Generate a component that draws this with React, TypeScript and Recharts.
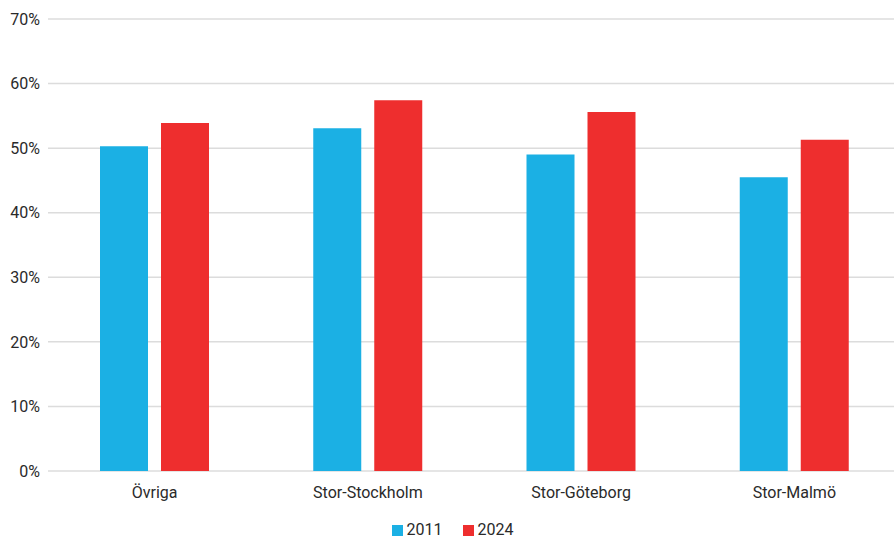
import { BarChart, Bar, XAxis, YAxis, CartesianGrid, Legend } from "recharts"

const regions = ["Övriga", "Stor-Stockholm", "Stor-Göteborg", "Stor-Malmö"]
const share2011 = [50.3, 53.1, 49.0, 45.5]
const share2024 = [53.9, 57.4, 55.6, 51.3]
const yTicks = [0, 10, 20, 30, 40, 50, 60, 70]

const data = regions.map((name, i) => ({ name, y2011: share2011[i], y2024: share2024[i] }))

const FONT = "Roboto, 'DejaVu Sans', sans-serif"

export default function App() {
  return (
    <div style={{ position: "absolute", left: 0, top: 0, width: 894, height: 539, background: "#fff", fontFamily: FONT, overflow: "hidden" }}>
      <BarChart
        width={894}
        height={539}
        data={data}
        margin={{ top: 19, right: -7, bottom: 2, left: 0 }}
        barSize={48}
        barGap={13}
      >
        <CartesianGrid vertical={false} stroke="#dcdcdc" strokeWidth={1.5} />
        <XAxis
          dataKey="name"
          axisLine={false}
          tickLine={false}
          height={40}
          tick={{ fill: "#2a2a2a", fontSize: 16, fontFamily: FONT }}
          tickMargin={10}
        />
        <YAxis
          width={48}
          domain={[0, 70]}
          ticks={yTicks}
          axisLine={false}
          tickLine={false}
          tickSize={0}
          tickMargin={8}
          tickFormatter={(v: number) => `${v}%`}
          tick={{ fill: "#2a2a2a", fontSize: 16, fontFamily: FONT }}
        />
        <Legend
          height={26}
          iconType="square"
          iconSize={11}
          wrapperStyle={{ bottom: -8, left: 12, lineHeight: "18px" }}
          formatter={(value: string) => <span style={{ color: "#2a2a2a", fontSize: 16, marginRight: 10 }}>{value}</span>}
        />
        <Bar dataKey="y2011" name="2011" fill="#1BB0E4" isAnimationActive={false} />
        <Bar dataKey="y2024" name="2024" fill="#EE2E2E" isAnimationActive={false} />
      </BarChart>
    </div>
  )
}
